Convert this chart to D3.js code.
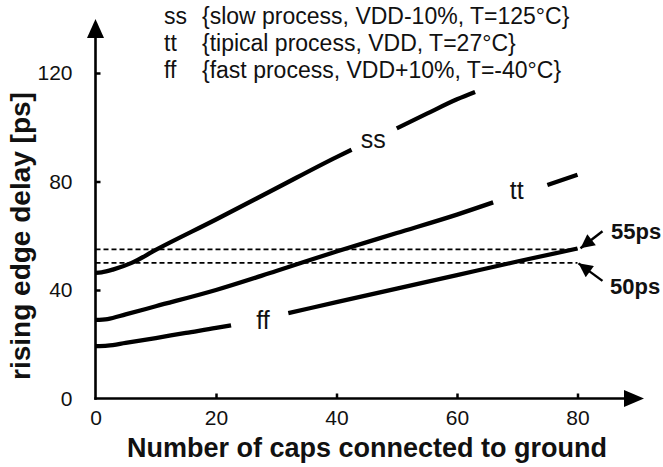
<!DOCTYPE html>
<html>
<head>
<meta charset="utf-8">
<script src="https://cdn.jsdelivr.net/npm/d3@7"></script>
<style>
  html, body { margin: 0; padding: 0; background: #fff; }
  svg { display: block; font-family: "Liberation Sans", Arial, Helvetica, sans-serif; }
</style>
</head>
<body>
<svg id="chart" width="663" height="467"></svg>
<script>
// ---------- data ----------
const xTickLabels = [0, 20, 40, 60, 80];
const yTickLabels = [0, 40, 80, 120];

// ss corner (gap around the curve label marked with null)
const ssX = [0, 1, 3, 6, 10, 20, 30, 40, 42.5, null, 50, 55, 60, 63];
const ssY = [46.3, 46.5, 47.6, 50, 54.8, 66, 77.5, 89, 91.7, null, 99.6, 105, 110.3, 113];
// tt corner
const ttX = [0, 2, 5, 10, 20, 30, 40, 50, 60, 66, null, 75, 80];
const ttY = [29, 29.3, 31, 34, 40, 47, 54.2, 61, 67.8, 72.3, null, 78.7, 82.5];
// ff corner
const ffX = [0, 2, 5, 10, 15, 20, 22.5, null, 32, 40, 50, 60, 70, 80];
const ffY = [19.3, 19.5, 20.5, 22.3, 24.2, 26, 27, null, 31.5, 35.5, 40.5, 45.5, 50.5, 55.3];

const seriesNames = ["ss", "tt", "ff"];
const legendDescriptions = [
  "{slow process, VDD-10%, T=125°C}",
  "{tipical process, VDD, T=27°C}",
  "{fast process, VDD+10%, T=-40°C}"
];
const refLevels = [55, 50];
const refLabels = ["55ps", "50ps"];

const xTitle = "Number of caps connected to ground";
const yTitle = "rising edge delay [ps]";

// ---------- scales ----------
const svg = d3.select("#chart");
svg.append("rect").attr("width", 663).attr("height", 467).attr("fill", "#fff");

const x = d3.scaleLinear().domain([0, 80]).range([95.5, 577.5]);
const y = d3.scaleLinear().domain([0, 120]).range([398.5, 73]);

// ---------- axes ----------
const xAxis = d3.axisBottom(x).tickValues(xTickLabels).tickSizeInner(-5).tickSizeOuter(0).tickPadding(12);
const yAxis = d3.axisLeft(y).tickValues(yTickLabels).tickSizeInner(-5).tickSizeOuter(0).tickPadding(23);

const gx = svg.append("g").attr("transform", `translate(0,${y(0)})`).call(xAxis);
const gy = svg.append("g").attr("transform", `translate(${x(0)},0)`).call(yAxis);
[gx, gy].forEach(g => {
  g.select(".domain").remove();
  g.selectAll(".tick line").attr("stroke", "#000").attr("stroke-width", 2.5);
  g.selectAll(".tick text").attr("fill", "#111").attr("font-size", 21)
    .attr("font-family", "'Liberation Sans', Arial, sans-serif");
});
gx.selectAll(".tick").filter(d => d === 0).select("line").remove();
gy.selectAll(".tick").filter(d => d === 0).select("line").remove();

// axis lines with arrow heads
const axisG = svg.append("g");
axisG.append("line").attr("x1", x(0)).attr("y1", y(0) + 1.2).attr("x2", x(0)).attr("y2", 36)
  .attr("stroke", "#000").attr("stroke-width", 2.6);
axisG.append("path").attr("d", `M${x(0)},19 L${x(0) - 8.5},38 L${x(0) + 8.5},38 Z`).attr("fill", "#000");
axisG.append("line").attr("x1", x(0) - 1.2).attr("y1", y(0)).attr("x2", 626).attr("y2", y(0))
  .attr("stroke", "#000").attr("stroke-width", 2.6);
axisG.append("path").attr("d", `M644,${y(0)} L624,${y(0) - 8.5} L624,${y(0) + 8.5} Z`).attr("fill", "#000");

// ---------- reference dashed lines ----------
svg.append("g").selectAll("line").data(refLevels).join("line")
  .attr("x1", x(0)).attr("x2", x(80))
  .attr("y1", d => y(d)).attr("y2", d => y(d))
  .attr("stroke", "#000").attr("stroke-width", 1.8).attr("stroke-dasharray", "5,3");

// ---------- curves ----------
const toPts = (xs, ys) => xs.map((v, i) => [v, ys[i]]);
const series = [toPts(ssX, ssY), toPts(ttX, ttY), toPts(ffX, ffY)];
const line = d3.line()
  .defined(d => d[0] !== null && d[1] !== null)
  .x(d => x(d[0])).y(d => y(d[1]))
  .curve(d3.curveMonotoneX);
svg.append("g").selectAll("path").data(series).join("path")
  .attr("d", line).attr("fill", "none").attr("stroke", "#000")
  .attr("stroke-width", 4.3).attr("stroke-linecap", "butt").attr("stroke-linejoin", "round");

// curve labels placed in the gaps (data-space positions)
const curveLabelPos = [[46.1, 92.5], [69.9, 73.4], [27.8, 25.6]];
svg.append("g").selectAll("text").data(seriesNames).join("text")
  .attr("x", (d, i) => x(curveLabelPos[i][0])).attr("y", (d, i) => y(curveLabelPos[i][1]))
  .attr("text-anchor", "middle").attr("font-size", 25).attr("fill", "#111")
  .text(d => d);

// ---------- legend ----------
const legend = svg.append("g");
seriesNames.forEach((n, i) => {
  const by = 24 + i * 27;
  legend.append("text").attr("x", 164).attr("y", by).attr("font-size", 23).attr("fill", "#111").text(n);
  legend.append("text").attr("x", 202).attr("y", by).attr("font-size", 23).attr("fill", "#111").text(legendDescriptions[i]);
});

// ---------- annotations ----------
svg.append("defs").append("marker")
  .attr("id", "ah").attr("viewBox", "0 0 10 10").attr("refX", 10).attr("refY", 5)
  .attr("markerWidth", 16).attr("markerHeight", 14).attr("markerUnits", "userSpaceOnUse")
  .attr("orient", "auto")
  .append("path").attr("d", "M0,0 L10,5 L0,10 Z").attr("fill", "#000");

const annG = svg.append("g");
annG.append("line").attr("x1", x(80) + 25).attr("y1", y(refLevels[0]) - 18)
  .attr("x2", x(80) + 3).attr("y2", y(refLevels[0]) - 1)
  .attr("stroke", "#000").attr("stroke-width", 2.4).attr("marker-end", "url(#ah)");
annG.append("line").attr("x1", x(80) + 25).attr("y1", y(refLevels[1]) + 18)
  .attr("x2", x(80) + 1).attr("y2", y(refLevels[1]) + 0.5)
  .attr("stroke", "#000").attr("stroke-width", 2.4).attr("marker-end", "url(#ah)");
annG.append("text").attr("x", 611).attr("y", y(refLevels[0]) - 10)
  .attr("font-size", 22).attr("font-weight", "bold").attr("fill", "#111").text(refLabels[0]);
annG.append("text").attr("x", 610).attr("y", y(refLevels[1]) + 31)
  .attr("font-size", 22).attr("font-weight", "bold").attr("fill", "#111").text(refLabels[1]);

// ---------- titles ----------
svg.append("text").attr("x", 367).attr("y", 457).attr("text-anchor", "middle")
  .attr("font-size", 27).attr("font-weight", "bold").attr("fill", "#111").text(xTitle);
svg.append("text").attr("transform", "translate(30,236) rotate(-90)").attr("text-anchor", "middle")
  .attr("font-size", 28).attr("font-weight", "bold").attr("fill", "#111").text(yTitle);
</script>
</body>
</html>
